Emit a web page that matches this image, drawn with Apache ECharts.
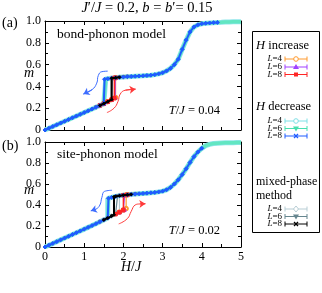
<!DOCTYPE html>
<html><head><meta charset="utf-8">
<script src="https://cdn.jsdelivr.net/npm/echarts@6/dist/echarts.min.js"></script>
<style>html,body{margin:0;padding:0;background:#fff}#c{width:322px;height:293px}</style>
</head><body><div id="c"></div>
<script>
// ---- axis ticks ----
const X_TICKS = [0, 1, 2, 3, 4, 5];
const Y_TICKS = [0, 0.2, 0.4, 0.6, 0.8, 1.0];

// ---- panel (a): bond-phonon model, T/J = 0.04 ----
const aLower = [[0,0],[0.1,0.016],[0.2,0.032],[0.3,0.048],[0.4,0.064],[0.5,0.08],[0.6,0.096],[0.7,0.112],[0.8,0.128],[0.9,0.144],[1.0,0.16],[1.1,0.176],[1.2,0.192],[1.3,0.208],[1.4,0.225],[1.5,0.242],[1.6,0.26],[1.7,0.279],[1.8,0.298]];
const aUpper = [[1.5,0.465],[1.6,0.47],[1.7,0.475],[1.8,0.479],[1.9,0.483],[2.0,0.486],[2.1,0.489],[2.2,0.491],[2.3,0.493],[2.4,0.495],[2.5,0.497],[2.6,0.5],[2.7,0.503],[2.8,0.508],[2.9,0.515],[3.0,0.525],[3.1,0.542],[3.2,0.565],[3.3,0.6],[3.4,0.65],[3.5,0.74],[3.6,0.825],[3.7,0.9],[3.8,0.945],[3.9,0.965],[4.0,0.975],[4.1,0.979],[4.2,0.982],[4.3,0.985],[4.4,0.987],[4.5,0.988],[4.6,0.99],[4.7,0.991],[4.8,0.992],[4.9,0.993],[5.0,0.994]];
// jump: [H, m below, m above]; range: [H min, H max]
const aJumps = {
  dec4:[1.55,0.25,0.467], dec6:[1.55,0.25,0.467], dec8:[1.52,0.246,0.466],
  mix4:[1.68,0.276,0.474], mix6:[1.72,0.283,0.476], mix8:[1.7,0.279,0.475],
  inc4:[1.8,0.298,0.479], inc6:[1.79,0.296,0.479], inc8:[1.77,0.292,0.478]
};
const aRanges = {
  dec4:[0,5], dec6:[0,5], dec8:[0,4.45],
  mix4:[1.3,2.1], mix6:[1.3,2.1], mix8:[1.4,1.95],
  inc4:[1.5,1.85], inc6:[1.5,1.85], inc8:[1.4,1.85]
};
const aArrowDown = [[1.6,0.54],[1.45,0.535],[1.36,0.5],[1.32,0.43],[1.2,0.37],[0.98,0.33]];
const aArrowUp = [[1.58,0.16],[1.76,0.2],[1.86,0.26],[1.92,0.33],[2.05,0.365],[2.31,0.375]];

// ---- panel (b): site-phonon model, T/J = 0.02 ----
const bLower = [[0,0],[0.1,0.017],[0.2,0.034],[0.3,0.051],[0.4,0.068],[0.5,0.085],[0.6,0.102],[0.7,0.119],[0.8,0.136],[0.9,0.153],[1.0,0.17],[1.1,0.187],[1.2,0.204],[1.3,0.222],[1.4,0.24],[1.5,0.258],[1.6,0.276],[1.7,0.295],[1.8,0.313],[1.9,0.332],[2.0,0.352],[2.1,0.372]];
const bUpper = [[1.6,0.462],[1.7,0.472],[1.8,0.482],[1.9,0.488],[2.0,0.493],[2.1,0.497],[2.2,0.501],[2.3,0.504],[2.4,0.507],[2.5,0.51],[2.6,0.513],[2.7,0.516],[2.8,0.52],[2.9,0.525],[3.0,0.532],[3.1,0.545],[3.2,0.567],[3.3,0.6],[3.4,0.64],[3.5,0.69],[3.6,0.745],[3.7,0.805],[3.8,0.86],[3.9,0.905],[4.0,0.94],[4.1,0.965],[4.2,0.978],[4.3,0.985],[4.4,0.989],[4.5,0.991],[4.6,0.992],[4.7,0.993],[4.8,0.994],[4.9,0.995],[5.0,0.996]];
const bJumps = {
  dec4:[1.6,0.276,0.462], dec6:[1.62,0.28,0.464], dec8:[1.62,0.28,0.464],
  mix4:[1.9,0.332,0.488], mix6:[1.85,0.322,0.485], mix8:[1.76,0.306,0.478],
  inc4:[2.07,0.366,0.496], inc6:[2.03,0.358,0.494], inc8:[2.0,0.352,0.493]
};
const bRanges = {
  dec4:[0,5], dec6:[0,5], dec8:[0,4.05],
  mix4:[1.4,2.3], mix6:[1.4,2.3], mix8:[1.45,2.25],
  inc4:[1.9,2.1], inc6:[1.9,2.1], inc8:[1.8,2.1]
};
const bArrowDown = [[1.71,0.54],[1.52,0.53],[1.45,0.47],[1.4,0.4],[1.3,0.36],[1.17,0.345]];
const bArrowUp = [[1.88,0.22],[2.1,0.27],[2.2,0.34],[2.3,0.4],[2.42,0.41],[2.56,0.412]];

// ---- styles ----
const FONT = '"Liberation Serif","DejaVu Serif",serif';
const STY = {
  dec4:{c:'#8fe6ea', w:5, sym:'none', s:4, z:1},
  dec6:{c:'#62e6c2', w:3.5, sym:'none', rot:180, s:4, z:2},
  mix4:{c:'#b7cdd4', w:1.2, sym:'emptyDiamond', s:3, z:3},
  mix6:{c:'#66868f', w:1.2, sym:'triangle', rot:180, s:3, z:3},
  inc4:{c:'#ff9a2e', w:1.2, sym:'emptyCircle', s:3.5, z:4},
  inc6:{c:'#a040ff', w:1.2, sym:'triangle', s:3.5, z:5},
  inc8:{c:'#ff2525', w:1.5, sym:'rect', s:3.5, z:6},
  dec8:{c:'#1f5cff', w:2, sym:'diamond', s:4, z:7},
  mix8:{c:'#000000', w:2, sym:'diamond', s:3, z:8}
};

function build(lower, upper, jump, range) {
  const lo = lower.filter(p => p[0] < jump[0] && p[0] >= range[0]);
  const up = upper.filter(p => p[0] > jump[0] && p[0] <= range[1]);
  return lo.concat([[jump[0], jump[1]], [jump[0], jump[2]]], up);
}

const series = [];
[[aLower, aUpper, aJumps, aRanges, 0], [bLower, bUpper, bJumps, bRanges, 2]].forEach(([lo, up, J, R, ai]) => {
  Object.keys(STY).forEach(k => {
    const s = STY[k];
    series.push({
      type:'line', name:k, xAxisIndex:ai, yAxisIndex:ai, z:s.z,
      data: build(lo, up, J[k], R[k]),
      showSymbol:s.sym !== 'none', symbol:s.sym, symbolSize:s.s, symbolRotate:s.rot || 0,
      lineStyle:{color:s.c, width:s.w}, itemStyle:{color:s.c, borderColor:s.c},
      silent:true, animation:false
    });
  });
});
function arrow(pts, color, ai) {
  const n = pts.length;
  return {
    type:'line', xAxisIndex:ai, yAxisIndex:ai, data:pts, smooth:0.5, showSymbol:false, z:9,
    lineStyle:{color:color, width:1}, silent:true, animation:false,
    markLine:{silent:true, animation:false, symbol:['none','arrow'], symbolSize:6, label:{show:false},
      lineStyle:{color:color, width:1, type:'solid'},
      data:[[{coord:pts[n-2]},{coord:pts[n-1]}]]}
  };
}
series.push(arrow(aArrowDown, '#3d6dff', 0), arrow(aArrowUp, '#ff3a3a', 0),
            arrow(bArrowDown, '#3d6dff', 2), arrow(bArrowUp, '#ff3a3a', 2));

const AX = {color:'#000', width:1};
function xAx(gi, pos, labels) {
  return {type:'value', gridIndex:gi, position:pos, min:X_TICKS[0], max:X_TICKS[X_TICKS.length-1], interval:1,
    axisLine:{show:true, onZero:false, lineStyle:AX},
    axisTick:{show:true, inside:true, length:4, lineStyle:AX},
    minorTick:{show:true, splitNumber:2, length:3, lineStyle:AX},
    axisLabel:{show:labels, color:'#000', fontFamily:FONT, fontSize:12, margin:4},
    splitLine:{show:false}, minorSplitLine:{show:false}};
}
function yAx(gi, pos, labels) {
  return {type:'value', gridIndex:gi, position:pos, min:Y_TICKS[0], max:Y_TICKS[Y_TICKS.length-1], interval:0.2,
    axisLine:{show:true, onZero:false, lineStyle:AX},
    axisTick:{show:true, inside:true, length:4, lineStyle:AX},
    minorTick:{show:true, splitNumber:2, length:3, lineStyle:AX},
    axisLabel:{show:labels, color:'#000', fontFamily:FONT, fontSize:12, margin:4,
      formatter:v => v === 0 ? '0' : v.toFixed(1)},
    splitLine:{show:false}, minorSplitLine:{show:false}};
}

// ---- legend & annotations (graphic) ----
const g = [];
function txt(x, y, text, size, align) {
  g.push({type:'text', x:x, y:y, z:100, style:{text:text, fill:'#000', font:size+'px '+FONT,
    align:align || 'left', verticalAlign:'middle',
    rich:{i:{fontStyle:'italic', fontFamily:FONT, fontSize:size}, n:{fontFamily:FONT, fontSize:size}}}});
}
g.push({type:'rect', shape:{x:252.5, y:31.5, width:67, height:201}, style:{fill:'none', stroke:'#000', lineWidth:1}, z:99});
function legItem(y, label, color, sym) {
  txt(282, y, '{i|L}{n|' + label + '}', 9, 'right');
  const x1 = 285, x2 = 307, cx = 296;
  const ls = {stroke:color, lineWidth:1};
  g.push({type:'line', shape:{x1:x1, y1:y, x2:x2, y2:y}, style:ls, z:100});
  g.push({type:'line', shape:{x1:x1, y1:y-2.5, x2:x1, y2:y+2.5}, style:ls, z:100});
  g.push({type:'line', shape:{x1:x2, y1:y-2.5, x2:x2, y2:y+2.5}, style:ls, z:100});
  if (sym === 'circleOpen') g.push({type:'circle', shape:{cx:cx, cy:y, r:2.3}, style:{fill:'#fff', stroke:color, lineWidth:1}, z:101});
  if (sym === 'tri') g.push({type:'polygon', shape:{points:[[cx,y-3],[cx-3,y+2],[cx+3,y+2]]}, style:{fill:color}, z:101});
  if (sym === 'triDown') g.push({type:'polygon', shape:{points:[[cx,y+3],[cx-3,y-2],[cx+3,y-2]]}, style:{fill:color}, z:101});
  if (sym === 'square') g.push({type:'rect', shape:{x:cx-2, y:y-2, width:4, height:4}, style:{fill:color}, z:101});
  if (sym === 'diamondOpen') g.push({type:'polygon', shape:{points:[[cx,y-3],[cx+2.5,y],[cx,y+3],[cx-2.5,y]]}, style:{fill:'#fff', stroke:color, lineWidth:1}, z:101});
  if (sym === 'x') {
    g.push({type:'line', shape:{x1:cx-2, y1:y-2, x2:cx+2, y2:y+2}, style:{stroke:color, lineWidth:1.2}, z:101});
    g.push({type:'line', shape:{x1:cx-2, y1:y+2, x2:cx+2, y2:y-2}, style:{stroke:color, lineWidth:1.2}, z:101});
  }
}
txt(256, 46, '{i|H}{n| increase}', 12.5);
legItem(59, '=4', STY.inc4.c, 'circleOpen');
legItem(67, '=6', STY.inc6.c, 'tri');
legItem(74.5, '=8', STY.inc8.c, 'square');
txt(256, 107, '{i|H}{n| decrease}', 12.5);
legItem(121, '=4', '#7fe0e6', 'circleOpen');
legItem(128.5, '=6', '#48dfb0', 'triDown');
legItem(136, '=8', STY.dec8.c, 'x');
txt(256, 182, '{n|mixed-phase}', 12);
txt(256, 196, '{n|method}', 12);
legItem(209, '=4', STY.mix4.c, 'diamondOpen');
legItem(216.5, '=6', STY.mix6.c, 'triDown');
legItem(224, '=8', '#000', 'x');

txt(147, 8, "{i|J}{n|′/}{i|J}{n| = 0.2, }{i|b}{n| = }{i|b}{n|′= 0.15}", 14.5, 'center');
txt(2, 23, '{n|(a)}', 14);
txt(2, 146, '{n|(b)}', 14);
txt(24, 73, '{i|m}', 14);
txt(24, 190, '{i|m}', 14);
txt(57, 34, '{n|bond-phonon model}', 13.5);
txt(57, 154, '{n|site-phonon model}', 13.5);
txt(220, 111, '{i|T}{n|/}{i|J}{n| = 0.04}', 12.5, 'right');
txt(220, 231, '{i|T}{n|/}{i|J}{n| = 0.02}', 12.5, 'right');
txt(131, 267, '{i|H}{n|/}{i|J}', 14, 'center');

const chart = echarts.init(document.getElementById('c'), null, {renderer:'canvas'});
chart.setOption({
  animation:false,
  backgroundColor:'#fff',
  grid:[{left:45, top:21, width:196, height:109}, {left:45, top:142, width:196, height:105}],
  xAxis:[xAx(0,'bottom',false), xAx(0,'top',false), xAx(1,'bottom',true), xAx(1,'top',false)],
  yAxis:[yAx(0,'left',true), yAx(0,'right',false), yAx(1,'left',true), yAx(1,'right',false)],
  series:series,
  graphic:g
});
</script></body></html>
